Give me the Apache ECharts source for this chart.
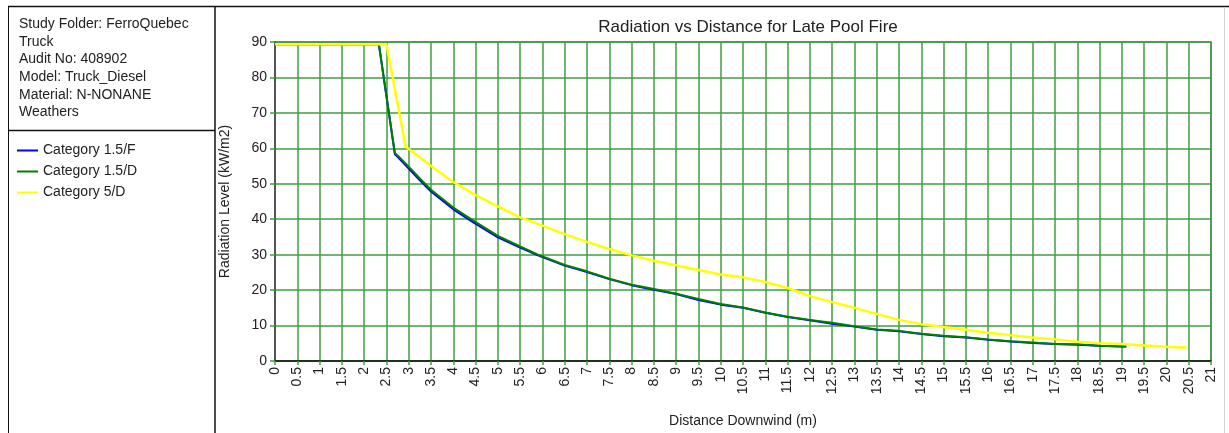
<!DOCTYPE html>
<html>
<head>
<meta charset="utf-8">
<script src="https://cdn.jsdelivr.net/npm/echarts@6/dist/echarts.min.js"></script>
<style>
html,body{margin:0;padding:0;background:#fff;}
#chart{width:1229px;height:433px;}
</style>
</head>
<body>
<div id="chart"></div>
<script>
// ---- Data ----
const infoLines = ["Study Folder: FerroQuebec", "Truck", "Audit No: 408902", "Model: Truck_Diesel", "Material: N-NONANE", "Weathers"];
const seriesNames = ["Category 1.5/F", "Category 1.5/D", "Category 5/D"];

const distF = [0, 2.33, 2.69, 2.75, 3.0, 3.25, 3.5, 4.0, 4.45, 5.0, 5.5, 5.9, 6.5, 7.0, 7.5, 8.0, 8.5, 9.0, 9.5, 10.0, 10.5, 11.0, 11.5, 12.0, 12.5, 13.0, 13.5, 14.0, 14.5, 15.0, 15.5, 16.0, 16.5, 17.0, 17.5, 18.0, 18.5, 19.0, 19.1];
const radF  = [89.4, 89.4, 58.3, 57.6, 54.3, 51.0, 47.8, 42.8, 39.1, 34.9, 32.0, 29.8, 26.9, 25.1, 23.1, 21.4, 20.1, 18.9, 17.2, 15.9, 15.0, 13.6, 12.4, 11.5, 10.5, 9.7, 8.8, 8.4, 7.6, 7.0, 6.6, 6.0, 5.5, 5.1, 4.8, 4.6, 4.3, 4.1, 4.1];

const distD = [0, 2.33, 2.69, 2.75, 3.0, 3.25, 3.5, 4.0, 4.45, 5.0, 5.5, 5.9, 6.5, 7.0, 7.5, 8.0, 8.5, 9.0, 9.5, 10.0, 10.5, 11.0, 11.5, 12.0, 12.5, 13.0, 13.5, 14.0, 14.5, 15.0, 15.5, 16.0, 16.5, 17.0, 17.5, 18.0, 18.5, 19.0, 19.1];
const radD  = [89.4, 89.4, 58.6, 58.0, 54.8, 51.5, 48.3, 43.3, 39.6, 35.3, 32.3, 30.0, 27.1, 25.3, 23.2, 21.5, 20.3, 19.0, 17.5, 16.1, 15.1, 13.7, 12.5, 11.6, 10.8, 9.8, 8.9, 8.5, 7.7, 7.1, 6.7, 6.1, 5.6, 5.2, 4.8, 4.7, 4.3, 4.1, 4.1];

const dist5D = [0, 2.5, 2.93, 3.48, 4.0, 4.5, 5.0, 5.5, 6.0, 6.5, 7.0, 7.5, 8.0, 8.5, 9.0, 9.5, 10.0, 10.5, 11.0, 11.5, 12.0, 12.5, 13.0, 13.5, 14.0, 14.5, 15.0, 15.5, 16.0, 16.5, 17.0, 17.5, 18.0, 18.5, 19.0, 19.5, 20.0, 20.45];
const rad5D  = [89.4, 89.4, 60.5, 55.2, 50.5, 46.8, 43.6, 40.5, 38.2, 35.8, 33.6, 31.6, 29.8, 28.3, 27.0, 25.7, 24.4, 23.6, 22.3, 20.6, 18.3, 16.6, 15.0, 13.3, 11.6, 10.4, 9.6, 8.8, 8.0, 7.3, 6.6, 6.1, 5.4, 5.0, 4.8, 4.4, 4.0, 3.8];

const seriesColors = ["#0000ff", "#008000", "#ffff00"];
const titleText = "Radiation vs Distance for Late Pool Fire";
const xName = "Distance Downwind (m)";
const yName = "Radiation Level (kW/m2)";

const pair = (xs, ys) => xs.map((x, i) => [x, ys[i]]);

const FONT = '"Liberation Sans", Arial, sans-serif';
const TXT = '#222';
const GRID = '#3f9f3f';

const chart = echarts.init(document.getElementById('chart'), null, {renderer: 'canvas'});

const graphics = [
  {type: 'line', shape: {x1: 8, y1: 6.5, x2: 1229, y2: 6.5}, style: {stroke: '#111', lineWidth: 1.5}, silent: true},
  {type: 'line', shape: {x1: 8.5, y1: 6, x2: 8.5, y2: 433}, style: {stroke: '#111', lineWidth: 1}, silent: true},
  {type: 'line', shape: {x1: 215, y1: 6, x2: 215, y2: 433}, style: {stroke: '#111', lineWidth: 1.5}, silent: true},
  {type: 'line', shape: {x1: 8, y1: 130.5, x2: 215, y2: 130.5}, style: {stroke: '#111', lineWidth: 1.5}, silent: true},
  {type: 'line', shape: {x1: 1224.5, y1: 7, x2: 1224.5, y2: 433}, style: {stroke: '#d4d4d4', lineWidth: 1}, silent: true}
];
const lineYs = [26, 43.5, 61, 78.7, 96.5, 114];
infoLines.forEach((t, i) => {
  graphics.push({type: 'text', left: 19, top: lineYs[i] - 8.5, silent: true,
    style: {text: t, font: '14px ' + FONT, fill: TXT}});
});

const option = {
  animation: false,
  backgroundColor: '#fff',
  title: {
    text: titleText, left: 743, top: 14, textAlign: 'center',
    textStyle: {fontFamily: FONT, fontSize: 17, fontWeight: 'normal', color: TXT}
  },
  legend: {
    orient: 'vertical', left: 17, top: 142, padding: 0,
    itemWidth: 21, itemHeight: 2, itemGap: 4, icon: 'rect',
    textStyle: {fontFamily: FONT, fontSize: 14, color: TXT, lineHeight: 17},
    data: seriesNames
  },
  grid: {left: 275, right: 18, top: 42, bottom: 65, show: true, borderColor: '#666', borderWidth: 1.5, containLabel: false},
  xAxis: {
    type: 'value', min: 0, max: 21, interval: 0.5,
    name: xName, nameLocation: 'middle', nameGap: 53,
    nameTextStyle: {fontFamily: FONT, fontSize: 14, color: TXT},
    axisLine: {show: true, onZero: false, lineStyle: {color: '#111', width: 1.5}},
    axisTick: {show: true, length: 4, lineStyle: {color: GRID, width: 1.5}},
    axisLabel: {rotate: 90, margin: 6, fontFamily: FONT, fontSize: 14, color: TXT},
    splitLine: {show: true, lineStyle: {color: GRID, width: 1.5}}
  },
  yAxis: {
    type: 'value', min: 0, max: 90, interval: 10,
    name: yName, nameLocation: 'middle', nameGap: 43, nameRotate: 90,
    nameTextStyle: {fontFamily: FONT, fontSize: 14, color: TXT},
    axisLine: {show: true, lineStyle: {color: '#555', width: 2}},
    axisTick: {show: true, length: 5, lineStyle: {color: GRID, width: 1.5}},
    axisLabel: {margin: 8, fontFamily: FONT, fontSize: 14, color: TXT},
    splitLine: {show: true, lineStyle: {color: GRID, width: 1.5}}
  },
  graphic: graphics,
  series: [
    {name: seriesNames[0], type: 'line', data: pair(distF, radF), showSymbol: false, symbol: 'none',
     lineStyle: {color: seriesColors[0], width: 2}, itemStyle: {color: seriesColors[0]}, z: 2},
    {name: seriesNames[1], type: 'line', data: pair(distD, radD), showSymbol: false, symbol: 'none',
     lineStyle: {color: seriesColors[1], width: 2}, itemStyle: {color: seriesColors[1]}, z: 3},
    {name: seriesNames[2], type: 'line', data: pair(dist5D, rad5D), showSymbol: false, symbol: 'none',
     lineStyle: {color: seriesColors[2], width: 2.5}, itemStyle: {color: seriesColors[2]}, z: 4}
  ]
};
chart.setOption(option);
</script>
</body>
</html>
